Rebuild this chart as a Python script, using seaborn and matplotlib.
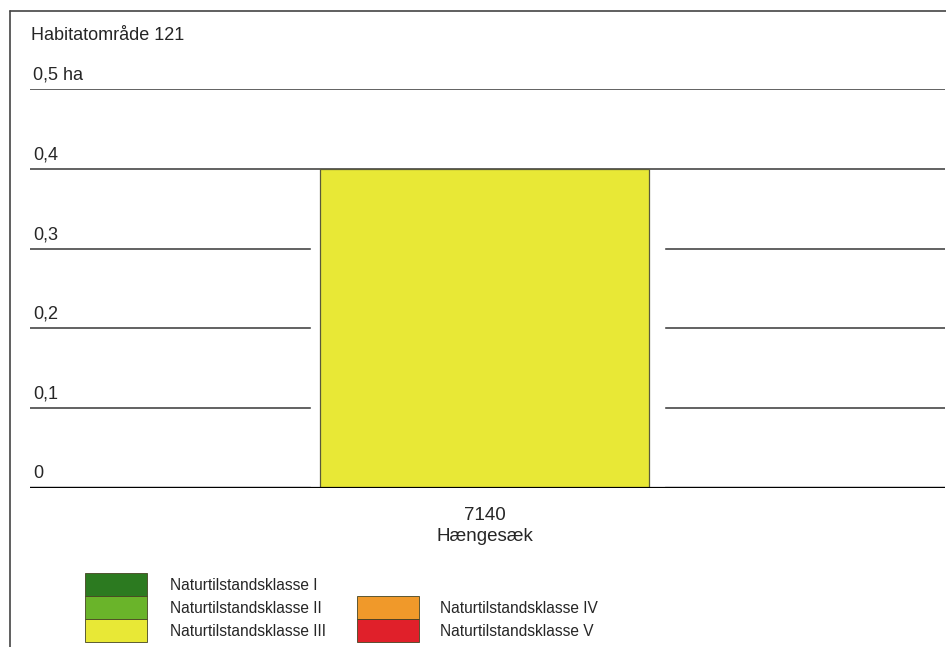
import pandas as pd
import seaborn as sns
import matplotlib.pyplot as plt
from matplotlib.patches import Rectangle
from matplotlib.lines import Line2D
import matplotlib.transforms as mtransforms

# data
habitat_codes = ["7140"]
habitat_names = ["Hængesæk"]
areas_ha = [0.4]
area_classes = ["Naturtilstandsklasse III"]

y_ticks = [0.0, 0.1, 0.2, 0.3, 0.4, 0.5]
y_tick_labels = ["0", "0,1", "0,2", "0,3", "0,4", "0,5 ha"]

legend_labels = ["Naturtilstandsklasse I", "Naturtilstandsklasse II", "Naturtilstandsklasse III",
                 "Naturtilstandsklasse IV", "Naturtilstandsklasse V"]
legend_colors = ["#2c7a20", "#6ab42a", "#e8e836", "#f0992a", "#e0202a"]
title = "Habitatområde 121"

sns.set_style("white")
plt.rcParams['font.family'] = ['Liberation Sans', 'DejaVu Sans']

df = pd.DataFrame({
    "habitat": [c + "\n" + n for c, n in zip(habitat_codes, habitat_names)],
    "area": areas_ha,
    "klasse": area_classes,
})
class_colors = dict(zip(legend_labels, legend_colors))

W, H = 946, 647
fig = plt.figure(figsize=(W / 100, H / 100), dpi=100)
ax = fig.add_axes([30 / W, (H - 488) / H, 915 / W, 399 / H])

# gridlines
for v in y_ticks:
    ax.axhline(v, color="black" if v == 0 else "#555555", lw=1.6 if v == 0 else 1.3, zorder=1)

# white gap behind the bar so gridlines stop short of it
ax.bar([0.003], [max(areas_ha) - 0.004], width=0.385, color="white", zorder=2)

sns.barplot(data=df, x="habitat", y="area", hue="klasse", palette=class_colors,
            saturation=1, width=0.36, edgecolor="#5a5a3a", linewidth=0.9, legend=False,
            ax=ax, zorder=3)
ax.axhline(0, color="black", lw=1.6, zorder=4)

ax.set_xlim(-0.497, 0.503)
ax.set_ylim(0, 0.5)
ax.set_yticks([])
ax.set_xlabel("")
ax.set_ylabel("")
ax.tick_params(axis="x", length=0, labelsize=13.5, pad=14)
for lbl in ax.get_xticklabels():
    lbl.set_linespacing(1.3)
for s in ax.spines.values():
    s.set_visible(False)

# y labels sit above the gridlines at the left
trans = mtransforms.offset_copy(ax.get_yaxis_transform(), fig=fig, x=2, y=4, units="points")
for v, t in zip(y_ticks, y_tick_labels):
    ax.text(0.0, v, t, transform=trans, ha="left", va="bottom", fontsize=13)

fig.text(31 / W, 1 - 36 / H, title, ha="left", va="center", fontsize=13)

# frame lines (top and left)
fig.add_artist(Line2D([10 / W, 1], [1 - 11 / H, 1 - 11 / H], color="#444444", lw=1.2))
fig.add_artist(Line2D([10 / W, 10 / W], [0, 1 - 11 / H], color="#444444", lw=1.2))

# legend: two columns of stacked swatches
sw = 23
cols = [(85, 170, 573, legend_labels[:3], legend_colors[:3]),
        (357, 440, 596, legend_labels[3:], legend_colors[3:])]
for x0, xt, y0, labs, cols_ in cols:
    for i, (lab, col) in enumerate(zip(labs, cols_)):
        yb = 1 - (y0 + sw * (i + 1)) / H
        fig.add_artist(Rectangle((x0 / W, yb), 62 / W, sw / H, facecolor=col,
                                 edgecolor="#444422", lw=0.6, transform=fig.transFigure))
        fig.text(xt / W, yb + sw / H / 2 - 1 / H, lab, ha="left", va="center", fontsize=11.2)

fig.savefig("out.png", dpi=100)
